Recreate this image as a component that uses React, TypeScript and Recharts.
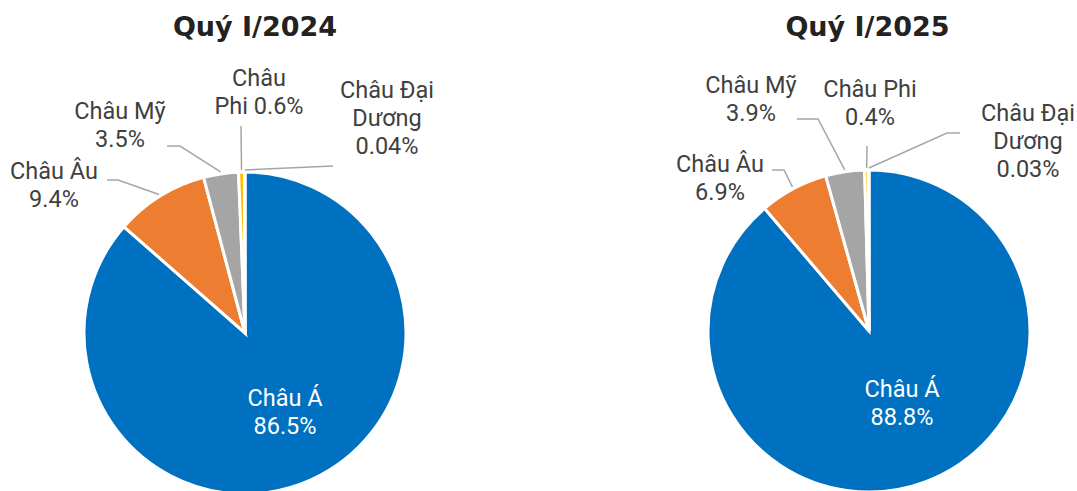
import React from 'react';
import { PieChart, Pie, Cell } from 'recharts';

const regions = ['Châu Á', 'Châu Âu', 'Châu Mỹ', 'Châu Phi', 'Châu Đại Dương'];
const share2024 = [86.5, 9.4, 3.5, 0.6, 0.04];
const share2025 = [88.8, 6.9, 3.9, 0.4, 0.03];
const periods = ['Quý I/2024', 'Quý I/2025'];
const colors = ['#0070C0', '#ED7D31', '#A5A5A5', '#FFC000', '#5B9BD5'];

type LabelLayout = {
  dx: number;
  dy: number;
  words: number[];
  leader: [number, number][];
  inside?: boolean;
};

// label placement relative to each pie centre
const layout2024: LabelLayout[] = [
  { dx: 40, dy: 73, words: [2, 1], leader: [], inside: true },
  { dx: -191, dy: -154, words: [2, 1], leader: [[-127, -153], [-138, -153]] },
  { dx: -125, dy: -214, words: [2, 1], leader: [[-65, -187], [-78, -187]] },
  { dx: 14, dy: -247, words: [1, 2], leader: [[-4, -207]] },
  { dx: 142, dy: -235, words: [2, 1, 1], leader: [[88, -167]] },
];

const layout2025: LabelLayout[] = [
  { dx: 33, dy: 66, words: [2, 1], leader: [], inside: true },
  { dx: -149, dy: -159, words: [2, 1], leader: [[-85, -161], [-97, -161]] },
  { dx: -118, dy: -238, words: [2, 1], leader: [[-51, -212], [-72, -212]] },
  { dx: 1, dy: -234, words: [2, 1], leader: [[-2, -185]] },
  { dx: 159, dy: -210, words: [2, 1, 1], leader: [[78, -198], [91, -198]] },
];

const data2024 = regions.map((name, i) => ({ name, value: share2024[i] }));
const data2025 = regions.map((name, i) => ({ name, value: share2025[i] }));

const RAD = Math.PI / 180;

function makeLabel(layouts: LabelLayout[]) {
  return (props: any) => {
    const { cx, cy, midAngle, outerRadius, index, name, value } = props;
    const L = layouts[index];
    if (!L) return null;
    const words = `${name} ${value}%`.split(' ');
    const lines: string[] = [];
    let k = 0;
    for (const n of L.words) {
      lines.push(words.slice(k, k + n).join(' '));
      k += n;
    }
    const tx = cx + L.dx;
    const ty = cy + L.dy;
    let leader = null;
    if (L.leader.length) {
      const ex = cx + (outerRadius + 2) * Math.cos(-midAngle * RAD);
      const ey = cy + (outerRadius + 2) * Math.sin(-midAngle * RAD);
      const pts = [[ex, ey], ...L.leader.map(([x, y]) => [cx + x, cy + y])];
      leader = (
        <polyline
          points={pts.map((p) => p.join(',')).join(' ')}
          fill="none"
          stroke="#A6A6A6"
          strokeWidth={1.5}
        />
      );
    }
    return (
      <g key={`lbl-${index}`}>
        {leader}
        <text
          x={tx}
          textAnchor="middle"
          fill={L.inside ? '#FFFFFF' : '#404040'}
          fontSize={23.5}
          fontFamily="Roboto, sans-serif"
        >
          {lines.map((ln, i) => (
            <tspan key={i} x={tx} y={ty + i * 28}>
              {ln}
            </tspan>
          ))}
        </text>
      </g>
    );
  };
}

const W = 1077;
const H = 491;

export default function App() {
  return (
    <div style={{ position: 'absolute', left: 0, top: 0, width: W, height: H, background: '#fff' }}>
      <PieChart width={W} height={H} margin={{ top: 0, right: 0, bottom: 0, left: 0 }}>
        <Pie
          data={data2024}
          dataKey="value"
          nameKey="name"
          cx={245}
          cy={333}
          outerRadius={161}
          startAngle={90}
          endAngle={-270}
          stroke="#FFFFFF"
          strokeWidth={3}
          label={makeLabel(layout2024)}
          labelLine={false}
          isAnimationActive={false}
        >
          {data2024.map((d, i) => (
            <Cell key={d.name} fill={colors[i]} />
          ))}
        </Pie>
        <Pie
          data={data2025}
          dataKey="value"
          nameKey="name"
          cx={869}
          cy={331}
          outerRadius={161}
          startAngle={90}
          endAngle={-270}
          stroke="#FFFFFF"
          strokeWidth={3}
          label={makeLabel(layout2025)}
          labelLine={false}
          isAnimationActive={false}
        >
          {data2025.map((d, i) => (
            <Cell key={d.name} fill={colors[i]} />
          ))}
        </Pie>
      </PieChart>
      <svg
        width={W}
        height={60}
        style={{ position: 'absolute', left: 0, top: 0, pointerEvents: 'none' }}
      >
        <text x={255} y={36} textAnchor="middle" fontFamily="'DejaVu Sans', sans-serif" fontWeight="bold" fontSize={27} fill="#222222">
          {periods[0]}
        </text>
        <text x={867.5} y={36} textAnchor="middle" fontFamily="'DejaVu Sans', sans-serif" fontWeight="bold" fontSize={27} fill="#222222">
          {periods[1]}
        </text>
      </svg>
    </div>
  );
}
